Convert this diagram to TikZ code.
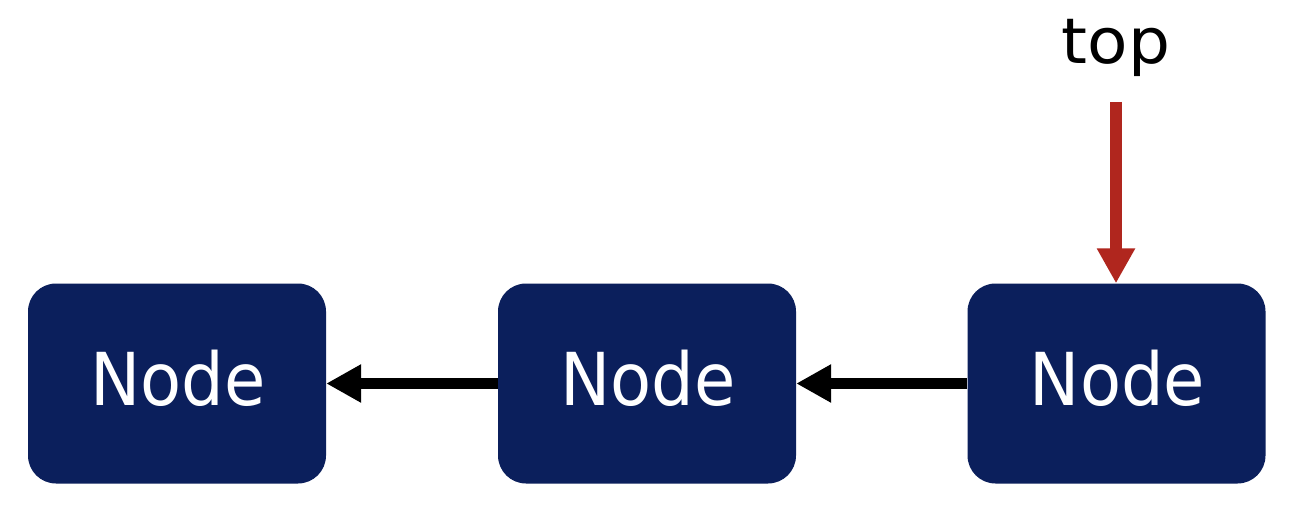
\documentclass[tikz,border=0pt]{standalone}
\usepackage{fontspec}
\usetikzlibrary{arrows.meta}
\newfontfamily\nodefont[FakeStretch=0.92]{DejaVu Sans}
\newfontfamily\labelfont[FakeStretch=1.05]{DejaVu Sans}
\definecolor{navy}{HTML}{0B1F5C}
\definecolor{pointerred}{HTML}{B0261E}
\begin{document}
\begin{tikzpicture}[x=1pt,y=-1pt,
  listnode/.style={fill=navy, rounded corners=28pt, minimum width=298pt,
    minimum height=200pt, inner sep=0pt},
  nodetext/.style={anchor=base, text=white, inner sep=0pt,
    font=\nodefont\fontsize{73}{80}\selectfont},
  link/.style={draw=black, line width=11pt,
    -{Triangle[length=35pt,width=36pt]}},
  pointer/.style={draw=pointerred, line width=12pt,
    -{Triangle[length=35pt,width=36pt]}}]
  \useasboundingbox (0,0) rectangle (1304,516);
  \fill[white] (0,0) rectangle (1304,516);

  % the three list nodes
  \node[listnode] (n1) at (177,383.5) {};
  \node[listnode] (n2) at (647,383.5) {};
  \node[listnode] (n3) at (1116.5,383.5) {};
  \node[nodetext] (t1) at (178,405) {Node};
  \node[nodetext] (t2) at (648,405) {Node};
  \node[nodetext] (t3) at (1117.5,405) {Node};

  % next-links
  \draw[link] (n2.west) -- (n1.east);
  \draw[link] (n3.west) -- (n2.east);

  % top pointer
  \node[anchor=base, inner sep=0pt, font=\labelfont\fontsize{63}{68}\selectfont]
    (top) at (1116,64) {top};
  \coordinate (ptr) at (1116,102);
  \draw[pointer] (ptr) -- (n3.north -| ptr);
\end{tikzpicture}
\end{document}
